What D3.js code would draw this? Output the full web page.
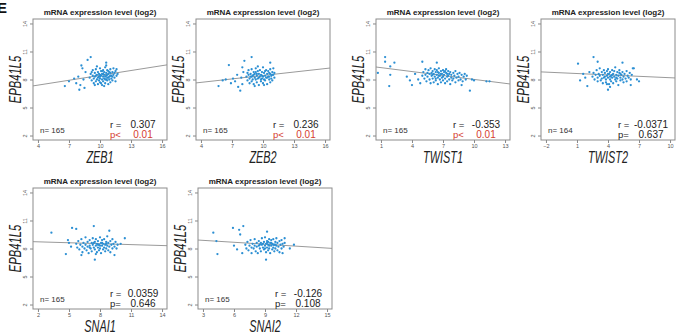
<!DOCTYPE html>
<html>
<head>
<meta charset="utf-8">
<script src="https://cdn.jsdelivr.net/npm/d3@7"></script>
<style>
  body { margin: 0; background: #fff; }
  svg { display: block; font-family: Arial, "Liberation Sans", sans-serif; }
</style>
</head>
<body>
<svg id="chart" width="677" height="336"></svg>
<script>
// values
let genes = ['ZEB1', 'ZEB2', 'TWIST1', 'TWIST2', 'SNAI1', 'SNAI2']
let xTicks = [[4, 7, 10, 13, 16], [4, 7, 10, 13, 16], [1, 4, 7, 10, 13],
              [-2, 1, 4, 7, 10], [2, 5, 8, 11, 14], [3, 6, 9, 12, 15]]
let yTicks = [2, 5, 8, 11, 14]
let nValues = [165, 165, 165, 164, 165, 165]
let rValues = ['0.307', '0.236', '-0.353', '-0.0371', '0.0359', '-0.126']
let pSigns = ['p<', 'p<', 'p<', 'p=', 'p=', 'p=']
let pValues = ['0.01', '0.01', '0.01', '0.637', '0.646', '0.108']
let fitIntercept = [6.70, 7.20, 9.41, 8.69, 8.78, 9.08]
let fitSlope = [0.174, 0.123, -0.140, -0.050, -0.033, -0.069]

let zeb1Pts = [[6.6,7.3],[7.0,7.8],[7.5,8.1],[7.7,7.6],[8.0,6.9],[8.2,9.5],[8.3,9.2],[9.1,10.4],[8.8,10.1],[10.6,9.8],[7.9,8.3],[8.1,7.4],[8.5,7.1],[8.6,8.8],[8.4,8.0],
  [9.0,8.2],[9.1,8.6],[9.2,7.9],[9.3,8.4],[9.3,9.0],[9.4,8.1],[9.4,7.6],[9.5,8.7],[9.5,8.3],[9.6,7.8],[9.6,9.1],[9.7,8.5],[9.7,8.0],[9.8,8.8],[9.8,7.5],[9.9,8.3],[9.9,8.6],[10.0,8.1],[10.0,9.2],[10.0,7.7],
  [10.1,8.4],[10.1,8.9],[10.2,8.0],[10.2,8.6],[10.2,7.4],[10.3,8.3],[10.3,9.0],[10.3,7.8],[10.4,8.5],[10.4,8.1],[10.4,8.8],[10.5,7.6],[10.5,8.3],[10.5,9.3],[10.6,8.0],[10.6,8.7],[10.6,8.4],[10.7,7.9],[10.7,9.0],[10.7,8.2],
  [10.8,8.6],[10.8,7.5],[10.8,8.9],[10.9,8.3],[10.9,8.0],[11.0,8.7],[11.0,7.7],[11.0,9.1],[11.1,8.4],[11.1,8.1],[11.2,8.8],[11.2,7.9],[11.3,8.5],[11.3,9.2],[11.4,8.2],[11.4,8.7],[11.5,7.8],[11.5,8.9],[11.6,8.4],[11.6,9.1],
  [11.7,8.6],[9.2,8.8],[9.5,7.4],[9.7,9.4],[10.0,8.5],[10.1,7.6],[10.4,7.3],[10.6,9.5],[10.9,8.8],[11.0,8.4],[10.3,8.6],[9.8,8.2],[10.5,8.0],[10.2,8.9],[9.9,7.9],[10.8,8.2],[11.2,8.3],[9.6,8.4],[10.7,8.5],[10.0,8.3]]

let zeb2Pts = [[5.7,7.3],[6.1,7.9],[6.4,8.0],[6.7,9.55],[6.9,7.6],[7.1,8.1],[7.3,7.8],[7.5,8.5],[7.6,7.2],[7.8,6.8],[8.0,7.5],[8.2,10.0],[8.0,9.3],[8.9,10.4],[10.7,9.8],[7.9,8.2],[8.1,8.8],
  [8.4,8.3],[8.5,8.7],[8.5,7.9],[8.6,8.5],[8.6,9.0],[8.7,8.1],[8.7,7.6],[8.8,8.6],[8.8,8.3],[8.9,7.8],[8.9,9.1],[9.0,8.4],[9.0,8.0],[9.1,8.8],[9.1,7.5],[9.2,8.2],[9.2,8.6],[9.3,8.0],[9.3,9.2],[9.4,7.7],
  [9.4,8.4],[9.5,8.9],[9.5,8.1],[9.6,8.6],[9.6,7.4],[9.7,8.3],[9.7,9.0],[9.8,7.8],[9.8,8.5],[9.9,8.1],[9.9,8.8],[10.0,7.6],[10.0,8.3],[10.0,9.3],[10.1,8.0],[10.1,8.7],[10.2,8.4],[10.2,7.9],[10.3,9.0],[10.3,8.2],
  [10.4,8.6],[10.4,7.5],[10.5,8.9],[10.5,8.3],[10.6,8.0],[10.6,8.7],[10.7,7.7],[10.7,9.1],[10.8,8.4],[10.8,8.1],[10.9,8.8],[10.9,7.9],[11.0,8.5],[11.0,9.2],[11.1,8.2],[11.1,8.7],[9.2,7.3],[9.5,9.4],[9.9,8.4],
  [10.2,8.9],[8.9,8.3],[9.4,8.6],[10.6,8.3],[9.8,8.0],[10.4,8.2],[9.1,8.5],[10.9,8.5],[9.6,8.2],[10.1,7.4],[9.3,8.8],[10.7,8.6]]

let twist1Pts = [[0.7,8.7],[1.4,10.4],[1.4,9.9],[1.9,9.4],[1.9,8.5],[1.8,7.3],[2.3,9.8],[3.8,7.9],[4.0,7.4],[3.5,8.3],[4.3,8.6],[5.0,9.9],[6.4,9.8],[9.6,6.8],[11.2,7.8],[11.5,7.8],[9.8,8.0],[8.8,7.4],[10.0,7.9],[4.6,8.0],[4.8,7.6],
  [5.0,8.4],[5.1,8.8],[5.2,8.1],[5.3,9.1],[5.3,8.5],[5.4,7.8],[5.5,8.7],[5.5,8.3],[5.6,9.0],[5.7,8.0],[5.7,8.6],[5.8,9.2],[5.8,7.6],[5.9,8.4],[6.0,8.9],[6.0,8.1],[6.1,8.6],[6.1,7.7],[6.2,9.1],[6.2,8.3],
  [6.3,8.8],[6.3,7.9],[6.4,8.5],[6.4,9.0],[6.5,8.2],[6.5,7.5],[6.6,8.7],[6.6,9.2],[6.7,8.0],[6.7,8.4],[6.8,8.9],[6.8,7.7],[6.9,8.6],[6.9,8.2],[7.0,9.0],[7.0,7.9],[7.1,8.5],[7.1,8.8],[7.2,8.1],[7.2,7.6],
  [7.3,8.7],[7.3,9.1],[7.4,8.3],[7.4,7.8],[7.5,8.9],[7.5,8.4],[7.6,8.0],[7.6,8.6],[7.7,7.5],[7.7,8.8],[7.8,8.2],[7.8,8.5],[7.9,7.9],[8.0,8.7],[8.0,8.1],[8.1,8.4],[8.2,7.7],[8.2,8.9],[8.3,8.2],[8.4,8.6],
  [8.5,7.9],[8.5,8.3],[8.6,8.7],[8.7,8.0],[8.8,8.5],[8.9,7.8],[9.0,8.3],[9.1,8.6],[9.2,8.0],[9.3,8.4],[6.0,8.5],[6.5,8.8],[7.0,8.3],[6.3,8.1],[6.8,8.6],[7.2,8.9],[6.6,8.4],[5.9,8.7],[7.4,8.6]]

let twist2Pts = [[1.1,9.7],[1.3,7.9],[1.6,8.6],[2.0,7.3],[2.6,10.4],[3.0,9.9],[4.0,6.9],[4.2,7.2],[5.4,9.8],[6.5,9.2],[7.0,7.8],[6.8,8.0],[6.2,7.4],[2.2,8.8],[1.8,8.2],
  [2.5,8.3],[2.6,8.7],[2.7,8.0],[2.8,8.5],[2.9,9.0],[3.0,8.2],[3.0,7.8],[3.1,8.6],[3.2,8.4],[3.2,9.2],[3.3,7.9],[3.4,8.8],[3.4,8.1],[3.5,8.5],[3.5,7.6],[3.6,9.0],[3.7,8.3],[3.7,8.7],[3.8,7.7],[3.8,8.0],
  [3.9,8.9],[3.9,8.4],[4.0,8.2],[4.0,9.1],[4.1,8.6],[4.1,7.5],[4.2,8.0],[4.2,8.8],[4.3,8.4],[4.3,7.8],[4.4,9.0],[4.4,8.2],[4.5,8.6],[4.5,7.6],[4.6,8.9],[4.6,8.3],[4.7,8.0],[4.7,9.3],[4.8,8.5],[4.8,7.8],
  [4.9,8.8],[4.9,8.1],[5.0,8.4],[5.0,7.4],[5.1,8.7],[5.1,9.0],[5.2,8.2],[5.2,7.9],[5.3,8.5],[5.4,8.0],[5.4,8.8],[5.5,8.3],[5.5,7.7],[5.6,8.6],[5.7,8.1],[5.8,8.9],[5.8,7.8],[5.9,8.4],[6.0,8.2],[6.1,8.7],
  [6.2,8.0],[6.3,8.5],[6.4,9.2],[4.0,8.6],[4.4,8.5],[3.6,8.2],[4.8,8.2],[5.2,8.6],[4.2,8.3],[3.9,7.5]]

let snai1Pts = [[3.3,9.7],[4.7,7.4],[5.0,8.6],[5.3,10.2],[5.7,10.1],[7.4,10.4],[7.5,6.8],[10.4,9.1],[9.4,7.3],[5.2,8.2],[4.9,8.9],[10.0,8.5],[6.2,7.3],[8.9,9.9],
  [5.7,8.5],[5.8,8.1],[5.9,8.8],[6.0,7.9],[6.1,8.4],[6.2,9.0],[6.3,8.2],[6.3,7.6],[6.4,8.6],[6.5,8.0],[6.6,9.2],[6.6,8.4],[6.7,7.8],[6.8,8.7],[6.8,8.2],[6.9,7.5],[7.0,8.9],[7.0,8.3],[7.1,8.0],[7.2,8.6],
  [7.2,7.7],[7.3,9.1],[7.3,8.4],[7.4,8.1],[7.5,8.7],[7.5,7.9],[7.6,8.3],[7.6,9.0],[7.7,7.6],[7.7,8.5],[7.8,8.1],[7.8,8.8],[7.9,7.8],[7.9,8.4],[8.0,9.2],[8.0,8.0],[8.1,8.6],[8.1,7.5],[8.2,8.3],[8.2,8.9],
  [8.3,7.9],[8.3,8.5],[8.4,8.1],[8.4,9.0],[8.5,7.7],[8.5,8.4],[8.6,8.7],[8.6,8.0],[8.7,9.3],[8.7,8.3],[8.8,7.8],[8.8,8.6],[8.9,8.2],[9.0,8.8],[9.0,7.6],[9.1,8.4],[9.2,8.0],[9.2,9.0],[9.3,8.5],[9.4,8.2],
  [9.5,8.7],[9.6,8.0],[9.7,8.4],[7.4,8.6],[7.8,8.4],[8.2,8.6],[8.6,8.5],[7.0,8.1],[8.0,8.3],[7.6,7.4]]

let snai2Pts = [[4.0,9.7],[4.3,8.8],[4.4,7.4],[5.9,10.2],[6.5,10.0],[6.9,10.4],[6.6,9.5],[9.1,6.8],[9.2,9.8],[10.9,9.1],[11.8,8.4],[6.0,8.3],[6.3,7.9],[6.8,7.5],[11.4,8.0],[10.7,7.5],
  [7.1,8.4],[7.2,8.0],[7.3,8.7],[7.4,7.8],[7.5,8.3],[7.6,8.9],[7.7,8.1],[7.7,7.5],[7.8,8.5],[7.9,8.0],[8.0,9.0],[8.0,8.3],[8.1,7.7],[8.2,8.6],[8.2,8.2],[8.3,7.5],[8.4,8.8],[8.4,8.3],[8.5,8.0],[8.6,8.6],
  [8.6,7.7],[8.7,9.1],[8.7,8.4],[8.8,8.1],[8.9,8.7],[8.9,7.9],[9.0,8.3],[9.0,9.2],[9.1,7.6],[9.1,8.5],[9.2,8.1],[9.2,8.8],[9.3,7.8],[9.3,8.4],[9.4,9.0],[9.4,8.0],[9.5,8.6],[9.5,7.5],[9.6,8.3],[9.6,8.9],
  [9.7,7.9],[9.7,8.5],[9.8,8.1],[9.8,9.0],[9.9,7.7],[9.9,8.4],[10.0,8.7],[10.0,8.0],[10.1,9.1],[10.1,8.3],[10.2,7.8],[10.2,8.6],[10.3,8.2],[10.4,8.8],[10.4,7.6],[10.5,8.4],[10.6,8.0],[10.6,8.9],[10.7,8.5],
  [10.8,8.2],[10.9,8.6],[8.8,8.5],[9.2,8.6],[9.6,8.6],[9.0,8.0],[9.4,8.3],[8.5,8.4],[10.0,8.4],[9.8,8.4],[9.3,8.7]]

let pointSets = [zeb1Pts, zeb2Pts, twist1Pts, twist2Pts, snai1Pts, snai2Pts]

// panel boxes on the page (layout, not data)
let panelLeft = [33, 196, 376, 541, 33, 198],
    panelTop = [19, 19, 19, 19, 188, 188],
    panelW = 134,
    panelH = 121,
    squeeze = 0.68

let svg = d3.select('#chart')

// clipped panel letter at the top-left corner
svg.append('text')
  .attr('x', -3)
  .attr('y', 13)
  .attr('font-size', 15)
  .attr('font-weight', 'bold')
  .attr('fill', '#111')
  .text('E')

// R style axis range: 4% padding either side of the ticks
let padded = ticks => {
  let lo = d3.min(ticks), hi = d3.max(ticks), pad = (hi - lo) * 0.04
  return [lo - pad, hi + pad]
}

genes.forEach((gene, i) => {
  let g = svg.append('g')
    .attr('transform', `translate(${panelLeft[i]},${panelTop[i]})`)

  let x = d3.scaleLinear().domain(padded(xTicks[i])).range([0, panelW])
  let y = d3.scaleLinear().domain(padded(yTicks)).range([panelH, 0])

  // x axis
  let xAxis = g.append('g')
    .attr('transform', `translate(0,${panelH})`)
    .call(d3.axisBottom(x).tickValues(xTicks[i]).tickSize(3).tickPadding(1.5))
  xAxis.select('.domain').remove()
  xAxis.selectAll('line').attr('stroke', '#888')
  xAxis.selectAll('text').attr('font-size', 5.5).attr('fill', '#555')

  // y axis, labels turned like R las=0
  let yAxis = g.append('g')
    .call(d3.axisLeft(y).tickValues(yTicks).tickSize(3).tickPadding(2))
  yAxis.select('.domain').remove()
  yAxis.selectAll('line').attr('stroke', '#888')
  yAxis.selectAll('text')
    .attr('font-size', 5.5)
    .attr('fill', '#555')
    .attr('text-anchor', 'middle')
    .attr('dy', 0)
    .attr('x', 0)
    .attr('transform', 'translate(-6,0) rotate(-90)')

  // regression line across the full x range
  let [x0, x1] = x.domain()
  g.append('line')
    .attr('x1', x(x0)).attr('y1', y(fitIntercept[i] + fitSlope[i] * x0))
    .attr('x2', x(x1)).attr('y2', y(fitIntercept[i] + fitSlope[i] * x1))
    .attr('stroke', '#9a9a9a')
    .attr('stroke-width', 1)

  // the points
  g.selectAll('circle.pt')
    .data(pointSets[i])
    .join('circle')
    .attr('class', 'pt')
    .attr('cx', d => x(d[0]))
    .attr('cy', d => y(d[1]))
    .attr('r', 1.15)
    .attr('fill', '#2b8fd3')

  // frame
  g.append('rect')
    .attr('width', panelW)
    .attr('height', panelH)
    .attr('fill', 'none')
    .attr('stroke', '#8c8c8c')
    .attr('stroke-width', 1)

  // title
  g.append('text')
    .attr('x', panelW / 2)
    .attr('y', -4)
    .attr('text-anchor', 'middle')
    .attr('font-size', 8)
    .attr('font-weight', 'bold')
    .attr('fill', '#222')
    .text('mRNA expression level (log2)')

  // axis names, narrow italic
  g.append('text')
    .attr('transform', `translate(${panelW / 2},${panelH + 23}) scale(${squeeze},1)`)
    .attr('text-anchor', 'middle')
    .attr('font-size', 16)
    .attr('font-style', 'italic')
    .attr('fill', '#222')
    .text(gene)

  g.append('text')
    .attr('transform', `translate(-12,${panelH / 2}) rotate(-90) scale(${squeeze},1)`)
    .attr('text-anchor', 'middle')
    .attr('font-size', 16.5)
    .attr('font-style', 'italic')
    .attr('fill', '#222')
    .text('EPB41L5')

  // n, r and p
  g.append('text')
    .attr('x', 7)
    .attr('y', panelH - 7)
    .attr('font-size', 8)
    .attr('fill', '#333')
    .text('n= ' + nValues[i])

  let pColor = pSigns[i] === 'p<' ? '#d5402f' : '#222'

  g.append('text')
    .attr('x', panelW - 57)
    .attr('y', panelH - 12)
    .attr('font-size', 9.5)
    .attr('fill', '#222')
    .text('r =')
  g.append('text')
    .attr('x', panelW - 24)
    .attr('y', panelH - 12)
    .attr('text-anchor', 'middle')
    .attr('font-size', 10)
    .attr('fill', '#222')
    .text(rValues[i])

  g.append('text')
    .attr('x', panelW - 57)
    .attr('y', panelH - 2)
    .attr('font-size', 9.5)
    .attr('fill', pColor)
    .text(pSigns[i])
  g.append('text')
    .attr('x', panelW - 24)
    .attr('y', panelH - 2)
    .attr('text-anchor', 'middle')
    .attr('font-size', 10)
    .attr('fill', pColor)
    .text(pValues[i])
})
</script>
</body>
</html>
